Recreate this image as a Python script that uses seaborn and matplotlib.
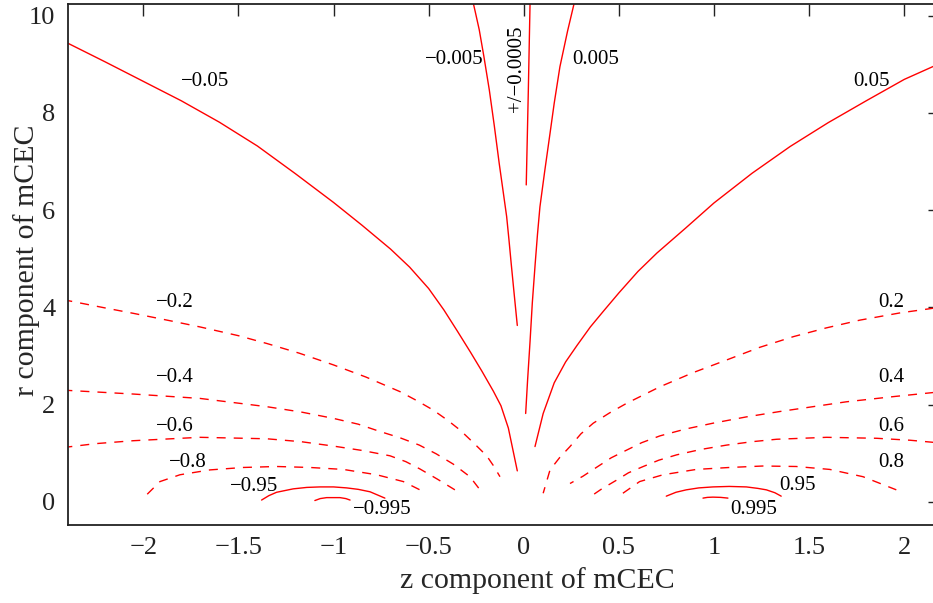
import matplotlib
matplotlib.use("Agg")
import matplotlib.pyplot as plt
import seaborn as sns
import pandas as pd

# ---- contour lines (z, r) ----
m05_z = [-2.42, -2.2, -2.0, -1.8, -1.6, -1.4, -1.2, -1.0, -0.85, -0.7, -0.6, -0.5, -0.42, -0.35, -0.28, -0.22, -0.16, -0.12, -0.081, -0.034]
m05_r = [9.48, 9.05, 8.65, 8.25, 7.81, 7.32, 6.75, 6.16, 5.69, 5.20, 4.83, 4.39, 3.95, 3.52, 3.08, 2.69, 2.28, 1.98, 1.52, 0.64]
p05_z = [2.20, 2.0, 1.8, 1.6, 1.4, 1.2, 1.0, 0.85, 0.7, 0.6, 0.5, 0.42, 0.35, 0.28, 0.22, 0.16, 0.102, 0.059]
p05_r = [9.04, 8.69, 8.25, 7.80, 7.31, 6.76, 6.15, 5.63, 5.12, 4.74, 4.30, 3.93, 3.60, 3.22, 2.88, 2.45, 1.82, 1.14]
m005_z = [-0.273, -0.255, -0.234, -0.21, -0.181, -0.155, -0.129, -0.11, -0.090, -0.078, -0.066, -0.050, -0.034]
m005_r = [10.39, 10.08, 9.71, 9.17, 8.47, 7.74, 6.96, 6.43, 5.87, 5.40, 4.90, 4.26, 3.63]
p005_z = [0.273, 0.230, 0.190, 0.160, 0.138, 0.110, 0.085, 0.072, 0.060, 0.045, 0.033, 0.020, 0.010]
p005_r = [10.39, 9.68, 8.95, 8.20, 7.58, 6.80, 6.07, 5.50, 4.90, 4.10, 3.30, 2.50, 1.82]
pm0005_z = [0.035, 0.033, 0.024, 0.013]
pm0005_r = [10.39, 10.25, 8.47, 6.52]

m2_z = [-2.42, -2.2, -2.053, -1.85, -1.702, -1.5, -1.351, -1.18, -1.001, -0.83, -0.651, -0.56, -0.476, -0.40, -0.335, -0.265, -0.195, -0.16, -0.125]
m2_r = [4.16, 3.99, 3.88, 3.72, 3.60, 3.42, 3.26, 3.06, 2.82, 2.57, 2.27, 2.08, 1.89, 1.68, 1.48, 1.22, 0.95, 0.75, 0.52]
p2_z = [2.20, 1.98, 1.767, 1.59, 1.417, 1.24, 1.066, 0.89, 0.716, 0.541, 0.45, 0.365, 0.30, 0.243, 0.19, 0.138, 0.102]
p2_r = [4.01, 3.89, 3.74, 3.58, 3.40, 3.18, 2.92, 2.66, 2.37, 2.03, 1.83, 1.62, 1.40, 1.14, 0.92, 0.66, 0.18]
m4_z = [-2.42, -2.053, -1.702, -1.351, -1.17, -1.001, -0.87, -0.756, -0.65, -0.549, -0.46, -0.371, -0.283, -0.230]
m4_r = [2.30, 2.22, 2.13, 1.96, 1.85, 1.72, 1.60, 1.45, 1.32, 1.17, 0.99, 0.78, 0.52, 0.25]
p4_z = [2.20, 1.95, 1.695, 1.345, 1.17, 0.994, 0.85, 0.716, 0.62, 0.532, 0.46, 0.401, 0.35, 0.311, 0.243]
p4_r = [2.27, 2.17, 2.06, 1.86, 1.75, 1.62, 1.50, 1.36, 1.22, 1.05, 0.91, 0.76, 0.63, 0.53, 0.38]
m6_z = [-2.42, -2.25, -2.053, -1.702, -1.351, -1.17, -1.001, -0.85, -0.703, -0.62, -0.546, -0.454, -0.362]
m6_r = [1.12, 1.20, 1.26, 1.33, 1.30, 1.24, 1.15, 1.06, 0.95, 0.83, 0.68, 0.47, 0.25]
p6_z = [2.20, 2.03, 1.855, 1.592, 1.329, 1.20, 1.066, 0.93, 0.804, 0.71, 0.628, 0.55, 0.488, 0.41, 0.339]
p6_r = [1.21, 1.27, 1.31, 1.33, 1.29, 1.24, 1.17, 1.08, 0.97, 0.86, 0.73, 0.60, 0.45, 0.27, 0.08]
m8_z = [-1.979, -1.912, -1.807, -1.649, -1.474, -1.299, -1.124, -0.949, -0.773, -0.633, -0.546]
m8_r = [0.16, 0.42, 0.56, 0.66, 0.71, 0.73, 0.71, 0.67, 0.56, 0.42, 0.25]
p8_z = [0.521, 0.609, 0.732, 0.907, 1.082, 1.257, 1.432, 1.608, 1.783, 1.958]
p8_r = [0.18, 0.42, 0.56, 0.67, 0.71, 0.74, 0.73, 0.67, 0.52, 0.25]

m95_z = [-1.378, -1.34, -1.299, -1.212, -1.14, -1.071, -1.00, -0.931, -0.87, -0.808, -0.730]
m95_r = [0.04, 0.13, 0.20, 0.27, 0.30, 0.31, 0.31, 0.29, 0.26, 0.21, 0.08]
p95_z = [0.749, 0.80, 0.854, 0.92, 0.994, 1.08, 1.170, 1.23, 1.275, 1.32, 1.353]
p95_r = [0.12, 0.20, 0.25, 0.29, 0.31, 0.32, 0.31, 0.28, 0.25, 0.19, 0.12]
m995_z = [-1.098, -1.07, -1.036, -0.966, -0.935, -0.913]
m995_r = [0.03, 0.07, 0.09, 0.09, 0.07, 0.04]
p995_z = [0.942, 0.965, 0.994, 1.035, 1.073]
p995_r = [0.08, 0.095, 0.10, 0.095, 0.08]

# ---- contour labels ----
label_text = ["\u22120.05", "\u22120.005", "+/\u22120.0005", "0.005", "0.05",
              "\u22120.2", "\u22120.4", "\u22120.6", "\u22120.8", "\u22120.95", "\u22120.995",
              "0.2", "0.4", "0.6", "0.8", "0.95", "0.995"]
label_z = [-1.675, -0.367, -0.038, 0.380, 1.825,
           -1.833, -1.833, -1.833, -1.765, -1.418, -0.745,
           1.930, 1.930, 1.930, 1.930, 1.441, 1.210]
label_r = [8.64, 9.09, 8.90, 9.09, 8.64,
           4.11, 2.57, 1.56, 0.82, 0.31, -0.16,
           4.11, 2.57, 1.56, 0.82, 0.33, -0.16]
label_rot = [0, 0, 90, 0, 0, 0, 0, 0, 0, 0, 0, 0, 0, 0, 0, 0, 0]

x_ticks = [-2, -1.5, -1, -0.5, 0, 0.5, 1, 1.5, 2]
x_ticklabels = ["\u22122", "\u22121.5", "\u22121", "\u22120.5", "0", "0.5", "1", "1.5", "2"]
y_ticks = [0, 2, 4, 6, 8, 10]
y_ticklabels = ["0", "2", "4", "6", "8", "10"]

solid = "-"
dashed = (0, (6.5, 5.8))
curves = [
    (m05_z, m05_r, solid), (p05_z, p05_r, solid),
    (m005_z, m005_r, solid), (p005_z, p005_r, solid),
    (pm0005_z, pm0005_r, solid),
    (m2_z, m2_r, dashed), (p2_z, p2_r, dashed),
    (m4_z, m4_r, dashed), (p4_z, p4_r, dashed),
    (m6_z, m6_r, dashed), (p6_z, p6_r, dashed),
    (m8_z, m8_r, dashed), (p8_z, p8_r, dashed),
    (m95_z, m95_r, solid), (p95_z, p95_r, solid),
    (m995_z, m995_r, solid), (p995_z, p995_r, solid),
]

sns.set_style("white")
plt.rcParams["font.family"] = ["Liberation Serif", "DejaVu Serif"]

fig = plt.figure(figsize=(9.33, 6.03), dpi=100)
ax = fig.add_axes([67.7 / 933, 78 / 603, (939.5 - 67.7) / 933, (525 - 4) / 603])

for cz, cr, ls in curves:
    df = pd.DataFrame({"z": cz, "r": cr})
    sns.lineplot(data=df, x="z", y="r", sort=False, estimator=None,
                 color="#ff0000", linewidth=1.0, linestyle=ls, legend=False, ax=ax)

for t, z, r, rot in zip(label_text, label_z, label_r, label_rot):
    ax.text(z, r, t, ha="center", va="center", rotation=rot, fontsize=15, color="black")

ax.set_xlim(-2.397, 2.185)
ax.set_ylim(-0.473, 10.24)
ax.set_xticks(x_ticks)
ax.set_xticklabels(x_ticklabels)
ax.set_yticks(y_ticks)
ax.set_yticklabels(y_ticklabels)
ax.tick_params(direction="in", length=8.8, width=1.0, top=True, right=True,
               labelsize=19, colors="#222222", pad=9)
for s in ax.spines.values():
    s.set_linewidth(1.3)
    s.set_color("#222222")

ax.set_xlabel("z component of mCEC", fontsize=21.5)
ax.set_ylabel("r component of mCEC", fontsize=21.5)
ax.xaxis.set_label_coords((537 - 67.7) / (939.5 - 67.7), -(567 - 525) / 521)
ax.yaxis.set_label_coords(-(67.7 - 40) / 871.8, (525 - 260) / 521)

fig.savefig("out.png", dpi=100)
